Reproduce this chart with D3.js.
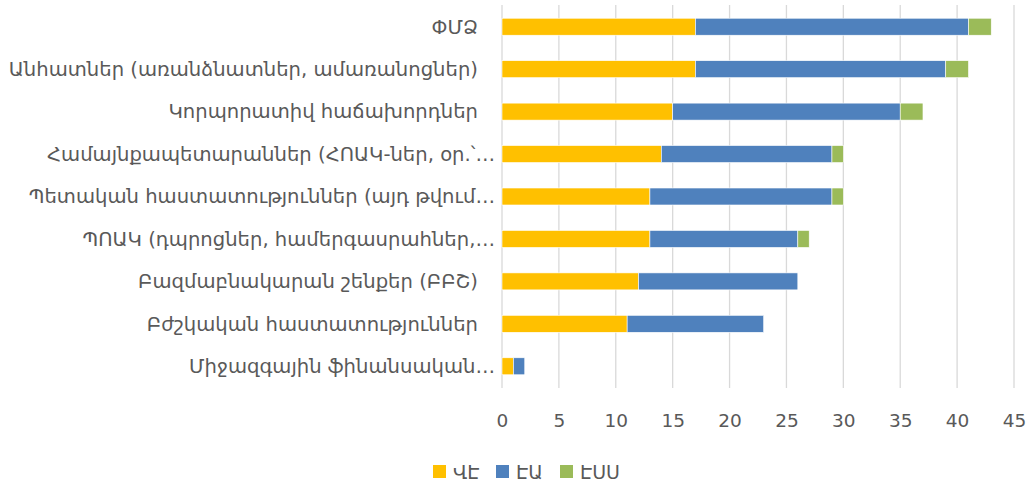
<!DOCTYPE html>
<html>
<head>
<meta charset="utf-8">
<script src="https://cdn.jsdelivr.net/npm/d3@7"></script>
<style>
  body { margin: 0; background: #fff; }
  text { font-family: "DejaVu Sans", sans-serif; fill: #595959; }
</style>
</head>
<body>
<svg width="1027" height="487"></svg>
<script>
// categories top to bottom, as shown (Excel truncates the long ones)
const categories = [
  "ՓՄՁ",
  "Անհատներ (առանձնատներ, ամառանոցներ)",
  "Կորպորատիվ հաճախորդներ",
  "Համայնքապետարաններ (ՀՈԱԿ-ներ, օր.՝…",
  "Պետական հաստատություններ (այդ թվում…",
  "ՊՈԱԿ (դպրոցներ, համերգասրահներ,…",
  "Բազմաբնակարան շենքեր (ԲԲՇ)",
  "Բժշկական հաստատություններ",
  "Միջազգային ֆինանսական…"
];
const seriesNames = ["ՎԷ", "ԷԱ", "ԷՍՍ"];
const ve  = [17, 17, 15, 14, 13, 13, 12, 11, 1];
const ea  = [24, 22, 20, 15, 16, 13, 14, 12, 1];
const ess = [2, 2, 2, 1, 1, 1, 0, 0, 0];
const xTicks = [0, 5, 10, 15, 20, 25, 30, 35, 40, 45];
const colors = ["#FFC000", "#4F81BD", "#9BBB59"];

const svg = d3.select('svg');

const x = d3.scaleLinear().domain([0, 45]).range([502, 1014]);
const y = d3.scaleBand().domain(categories).range([5.5, 387.5])
  .paddingInner(0.6).paddingOuter(0.3);

// gridlines
svg.append('g').selectAll('line')
  .data(xTicks)
  .enter().append('line')
  .attr('x1', d => x(d)).attr('x2', d => x(d))
  .attr('y1', 5).attr('y2', 388)
  .attr('stroke', '#d9d9d9').attr('stroke-width', 1.3);

// stacked data
const rows = categories.map((c, i) => ({ cat: c, ve: ve[i], ea: ea[i], ess: ess[i] }));
const stack = d3.stack().keys(["ve", "ea", "ess"]);
const layers = stack(rows);

svg.append('g').selectAll('g')
  .data(layers)
  .enter().append('g')
  .attr('fill', (d, i) => colors[i])
  .selectAll('rect')
  .data(d => d.filter(s => s[1] > s[0]))
  .enter().append('rect')
  .attr('x', d => x(d[0]))
  .attr('y', d => y(d.data.cat))
  .attr('width', d => x(d[1]) - x(d[0]))
  .attr('height', y.bandwidth())
  .attr('stroke', '#ffffff').attr('stroke-width', 0.6);

// category labels
svg.append('g').selectAll('text')
  .data(categories)
  .enter().append('text')
  .attr('x', d => d.endsWith('…') ? 495 : 478)
  .attr('y', d => y(d) + y.bandwidth() / 2)
  .attr('dy', '0.35em')
  .attr('text-anchor', 'end')
  .style('font-size', '19.6px')
  .text(d => d);

// x axis labels
const xAxis = d3.axisBottom(x).tickValues(xTicks).tickSize(0).tickPadding(0);
const ax = svg.append('g').attr('transform', 'translate(0,413.5)').call(xAxis);
ax.select('.domain').remove();
ax.selectAll('text').style('font-size', '18.5px').attr('dy', '0.71em');

// legend
const legendX = [433, 496, 560];
const lg = svg.append('g').selectAll('g')
  .data(seriesNames)
  .enter().append('g')
  .attr('transform', (d, i) => `translate(${legendX[i]},465)`);
lg.append('rect').attr('width', 13).attr('height', 13).attr('fill', (d, i) => colors[i]);
lg.append('text').attr('x', 20).attr('y', 7).attr('dy', '0.35em')
  .style('font-size', '19px').text(d => d);
</script>
</body>
</html>
